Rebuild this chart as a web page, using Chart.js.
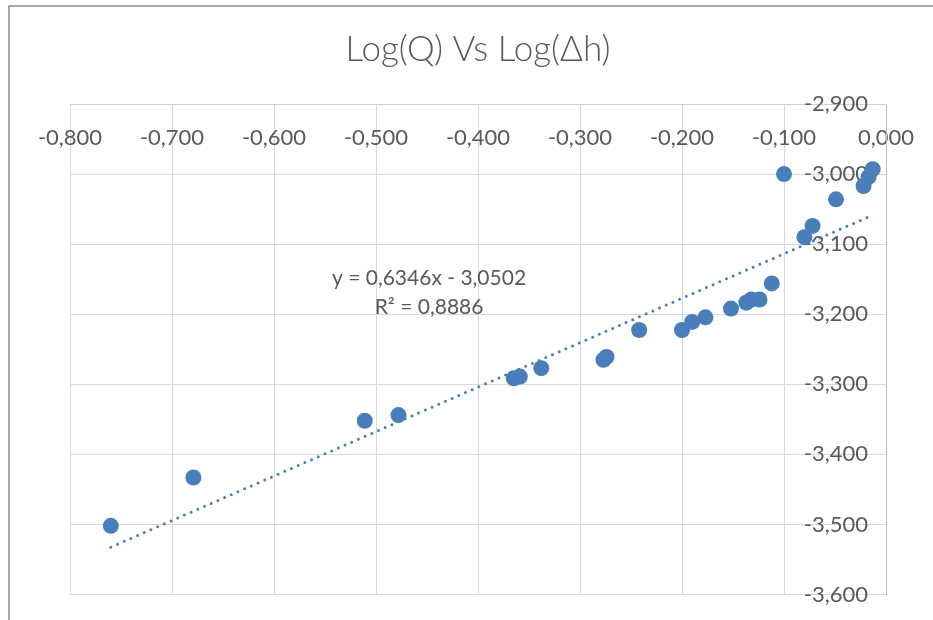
<!DOCTYPE html>
<html>
<head>
<meta charset="utf-8">
<script src="https://cdn.jsdelivr.net/npm/chart.js@4"></script>
<style>
  html, body { margin: 0; padding: 0; background: #ffffff; }
  #wrap { width: 933px; height: 620px; position: relative; }
</style>
</head>
<body>
<div id="wrap"><canvas id="c" width="933" height="620"></canvas></div>
<script>
// ---- data ----
const chartTitle = 'Log(Q) Vs Log(Δh)';
const logDh = [-0.760, -0.679, -0.511, -0.478, -0.365, -0.359, -0.338, -0.277, -0.274,
  -0.242, -0.200, -0.190, -0.177, -0.152, -0.137, -0.132, -0.124, -0.112,
  -0.080, -0.072, -0.100, -0.049, -0.022, -0.017, -0.013];
const logQ = [-3.502, -3.433, -3.352, -3.344, -3.2915, -3.289, -3.277, -3.265, -3.261,
  -3.2225, -3.2225, -3.211, -3.2045, -3.192, -3.1835, -3.179, -3.179, -3.156,
  -3.090, -3.074, -3.000, -3.036, -3.017, -3.004, -2.993];
const trendSlope = 0.6346;
const trendIntercept = -3.0502;
const trendEquation = 'y = 0,6346x - 3,0502';
const trendR2 = 'R² = 0,8886';
const xTickMin = -0.8, xTickMax = 0, xTickStep = 0.1;
const yTickMin = -3.6, yTickMax = -2.9, yTickStep = 0.1;

// ---- build datasets ----
const points = logDh.map((x, i) => ({ x: x, y: logQ[i] }));
const xLo = Math.min(...logDh), xHi = Math.max(...logDh);
const trendPts = [
  { x: xLo, y: trendSlope * xLo + trendIntercept },
  { x: xHi, y: trendSlope * xHi + trendIntercept }
];

const fmt = v => Number(v).toFixed(3).replace('.', ',').replace(/^-(0,000)$/, '$1');
const TXT = '#595959';
const FONT = 'Lato, "Open Sans", sans-serif';
const BLUE = '#4a7ebb';

const noPad = s => { s.paddingLeft = 0; s.paddingRight = 0; s.paddingTop = 0; s.paddingBottom = 0; };

const bgPlugin = {
  id: 'bg',
  beforeDraw(chart) {
    const ctx = chart.ctx;
    ctx.save();
    ctx.fillStyle = '#ffffff';
    ctx.fillRect(0, 0, chart.width, chart.height);
    ctx.strokeStyle = '#8a8a8a';
    ctx.lineWidth = 1.5;
    ctx.strokeRect(9, 6, chart.width + 20, chart.height + 20);
    ctx.restore();
  }
};

const eqPlugin = {
  id: 'eqLabel',
  afterDatasetsDraw(chart, args, opts) {
    const { ctx, scales } = chart;
    const px = scales.x.getPixelForValue(opts.atX);
    const py = scales.y.getPixelForValue(opts.atY);
    ctx.save();
    ctx.fillStyle = TXT;
    ctx.font = '21px ' + FONT;
    ctx.textAlign = 'center';
    ctx.textBaseline = 'middle';
    ctx.fillText(trendEquation, px, py);
    ctx.fillText(trendR2, px, py + 29);
    ctx.restore();
  }
};

new Chart(document.getElementById('c'), {
  type: 'scatter',
  data: {
    datasets: [
      {
        label: 'Trend',
        type: 'line',
        data: trendPts,
        borderColor: BLUE,
        borderWidth: 3,
        borderDash: [0, 7.3],
        borderCapStyle: 'round',
        pointRadius: 0,
        fill: false,
        order: 0
      },
      {
        label: 'Log(Q)',
        data: points,
        backgroundColor: BLUE,
        borderColor: BLUE,
        borderWidth: 0,
        pointRadius: 8,
        pointHoverRadius: 8,
        order: 1
      }
    ]
  },
  options: {
    responsive: false,
    animation: false,
    events: [],
    layout: { padding: { left: 70, right: 47, top: 0, bottom: 25.5 } },
    plugins: {
      legend: { display: false },
      tooltip: { enabled: false },
      title: {
        display: true,
        text: chartTitle,
        color: TXT,
        font: { family: FONT, size: 35, weight: '300', lineHeight: 1.2 },
        padding: { top: 29, bottom: 33 }
      },
      eqLabel: { atX: -0.448, atY: -3.1483 }
    },
    scales: {
      x: {
        type: 'linear',
        position: 'top',
        min: xTickMin,
        max: xTickMax,
        afterFit(s) { s.height = 0; noPad(s); },
        ticks: {
          stepSize: xTickStep,
          autoSkip: false,
          maxRotation: 0,
          mirror: true,
          padding: 21,
          color: TXT,
          font: { family: FONT, size: 22 },
          callback: v => fmt(v)
        },
        grid: { color: '#d9d9d9', lineWidth: 1, drawTicks: false },
        border: { display: true, color: '#d0d0d0', width: 1 }
      },
      y: {
        type: 'linear',
        position: 'right',
        min: yTickMin,
        max: yTickMax,
        afterFit(s) { s.width = 0; noPad(s); },
        ticks: { stepSize: yTickStep, display: false },
        grid: { color: '#d9d9d9', lineWidth: 1, drawTicks: false },
        border: { display: true, color: '#bfbfbf', width: 1 }
      },
      yLabels: {
        type: 'linear',
        axis: 'y',
        position: 'right',
        min: yTickMin,
        max: yTickMax,
        z: 1,
        afterFit(s) { s.width = 0; noPad(s); },
        ticks: {
          stepSize: yTickStep,
          mirror: true,
          padding: -18,
          color: TXT,
          font: { family: FONT, size: 22 },
          callback: v => fmt(v)
        },
        grid: { display: false, drawTicks: false },
        border: { display: false }
      }
    }
  },
  plugins: [bgPlugin, eqPlugin]
});
</script>
</body>
</html>
